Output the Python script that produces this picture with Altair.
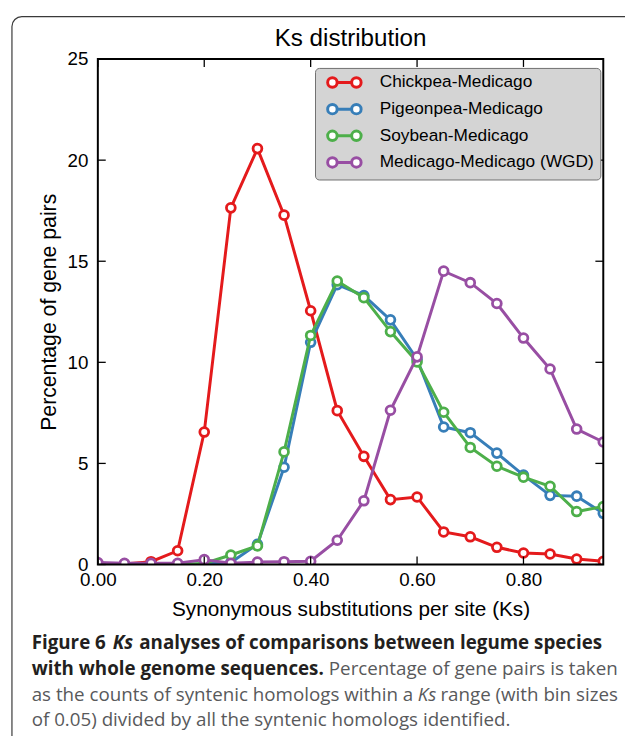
import altair as alt
import pandas as pd

# ---------------- data ----------------
KS = [0.00, 0.05, 0.10, 0.15, 0.20, 0.25, 0.30, 0.35, 0.40, 0.45,
      0.50, 0.55, 0.60, 0.65, 0.70, 0.75, 0.80, 0.85, 0.90, 0.95]
SERIES = ["Chickpea-Medicago", "Pigeonpea-Medicago", "Soybean-Medicago",
          "Medicago-Medicago (WGD)"]
COLORS = ["#e41a1c", "#377eb8", "#4daf4a", "#984ea3"]
CHICKPEA = [0.02, 0.02, 0.14, 0.68, 6.55, 17.64, 20.57, 17.28, 12.55, 7.61,
            5.35, 3.21, 3.34, 1.61, 1.37, 0.85, 0.57, 0.52, 0.27, 0.16]
PIGEONPEA = [0.0, 0.0, 0.0, 0.0, 0.02, 0.10, 1.00, 4.81, 10.99, 13.84,
             13.30, 12.10, 10.15, 6.80, 6.52, 5.51, 4.42, 3.42, 3.38, 2.53]
SOYBEAN = [0.0, 0.0, 0.0, 0.0, 0.05, 0.47, 0.92, 5.57, 11.33, 14.02,
           13.20, 11.52, 10.02, 7.53, 5.79, 4.86, 4.32, 3.87, 2.62, 2.87]
MEDICAGO = [0.10, 0.06, 0.06, 0.06, 0.24, 0.06, 0.12, 0.14, 0.16, 1.20,
            3.15, 7.63, 10.27, 14.51, 13.94, 12.91, 11.20, 9.67, 6.70, 6.06]
X_TICKS = [0.0, 0.2, 0.4, 0.6, 0.8]
Y_TICKS = [0, 5, 10, 15, 20, 25]

TITLE = "Ks distribution"
X_TITLE = "Synonymous substitutions per site (Ks)"
Y_TITLE = "Percentage of gene pairs"

CAPTION = [
    [("Figure 6", "bold", "normal"), ("Ks", "bold", "italic"),
     ("analyses of comparisons between legume species", "bold", "normal")],
    [("with whole genome sequences.", "bold", "normal"),
     ("Percentage of gene pairs is taken", "normal", "normal")],
    [("as the counts of syntenic homologs within a", "normal", "normal"),
     ("Ks", "normal", "italic"), ("range (with bin sizes", "normal", "normal")],
    [("of 0.05) divided by all the syntenic homologs identified.", "normal", "normal")],
]

# ---------------- layout ----------------
W, H = 512, 512
X0, Y0 = 99, 55           # page position of plot origin
FONT = "Liberation Sans"
CAP_FONT = "Open Sans"
CAP_BOLD_SIZE = 19
CAP_REG_SIZE = 19
CAP_X = [[32, 114, 141], [32, 333], [32, 423, 446], [32]]
CAP_Y = [653, 679, 705, 731]

LEG_X, LEG_Y, LEG_W, LEG_H = 220, 9, 282, 109

rows = []
for name, vals in zip(SERIES, [CHICKPEA, PIGEONPEA, SOYBEAN, MEDICAGO]):
    for k, v in zip(KS, vals):
        rows.append({"ks": k, "pct": v, "series": name})
df = pd.DataFrame(rows)

x_scale = alt.Scale(domain=[0, 0.95], nice=False, zero=False)
y_scale = alt.Scale(domain=[0, 25], nice=False, zero=False)
c_scale = alt.Scale(domain=SERIES, range=COLORS)

x_axis = alt.Axis(values=X_TICKS, format=".2f", title=X_TITLE, labelFont=FONT,
                  labelFontSize=19, labelColor="black", labelPadding=6,
                  ticks=False, tickSize=0, domain=False, grid=False,
                  labelFlush=False, labelOverlap=False,
                  titleFont=FONT, titleFontSize=21, titleFontWeight="normal",
                  titleColor="black", titlePadding=10)
y_axis = alt.Axis(values=Y_TICKS, title=Y_TITLE, labelFont=FONT,
                  labelFontSize=19, labelColor="black", labelPadding=10,
                  ticks=False, tickSize=0, domain=False, grid=False,
                  labelFlush=False, labelOverlap=False,
                  titleFont=FONT, titleFontSize=21.5, titleFontWeight="normal",
                  titleColor="black", titlePadding=7)

X = alt.X("ks:Q", scale=x_scale, axis=x_axis)
Y = alt.Y("pct:Q", scale=y_scale, axis=y_axis)


def circ(cx, r):
    k = 0.5523 * r
    f = lambda v: f"{v:.3f}"
    return (f"M{f(cx + r)},0C{f(cx + r)},{f(k)} {f(cx + k)},{f(r)} {f(cx)},{f(r)}"
            f"C{f(cx - k)},{f(r)} {f(cx - r)},{f(k)} {f(cx - r)},0"
            f"C{f(cx - r)},{f(-k)} {f(cx - k)},{f(-r)} {f(cx)},{f(-r)}"
            f"C{f(cx + k)},{f(-r)} {f(cx + r)},{f(-k)} {f(cx + r)},0Z")


U = 6.5  # px per path unit (sqrt(169)/2)
cc, rr = 12.15 / U, 4.8 / U
SYMBOL = circ(-cc, rr) + f"M{-cc + rr:.3f},0L{cc - rr:.3f},0" + circ(cc, rr)

legend = alt.Legend(title=None, orient="none", legendX=LEG_X, legendY=LEG_Y, zindex=2,
                    fillColor="#d4d4d4", strokeColor="#707070", cornerRadius=4,
                    padding=6, labelFont=FONT, labelFontSize=17.5, labelLimit=400,
                    labelColor="black", labelOffset=27, symbolOffset=15,
                    symbolType=SYMBOL, symbolSize=169, symbolStrokeWidth=3,
                    symbolFillColor="white", symbolOpacity=1, rowPadding=4)
C = alt.Color("series:N", scale=c_scale, legend=legend)

layers = []
one = pd.DataFrame({"k": [0]})

# outer figure border (rounded, runs off the page on right/bottom)
layers.append(alt.Chart(one).mark_rect(fillOpacity=0, stroke="#3a3a3a",
                                       strokeWidth=1.2, cornerRadius=10).encode(
    x=alt.value(12 - X0), x2=alt.value(800), y=alt.value(12 - Y0), y2=alt.value(900)))

# legend shadow
layers.append(alt.Chart(one).mark_rect(fill="#8c8c8c", opacity=0.7, cornerRadius=4).encode(
    x=alt.value(LEG_X + 4), x2=alt.value(LEG_X + 4 + LEG_W),
    y=alt.value(LEG_Y + 4), y2=alt.value(LEG_Y + 4 + LEG_H)))

for name in SERIES:
    base = alt.Chart(df).transform_filter(alt.datum.series == name)
    layers.append(base.mark_line(strokeWidth=3, clip=True).encode(x=X, y=Y, color=C))
    layers.append(base.mark_point(shape="circle", filled=False, fill="white",
                                  opacity=1, size=80, strokeWidth=2.8,
                                  clip=True).encode(x=X, y=Y, color=C))

# inward ticks on all four sides
xt = pd.DataFrame({"ks": X_TICKS})
yt = pd.DataFrame({"pct": Y_TICKS})
layers.append(alt.Chart(xt).mark_rule(color="black", strokeWidth=1.3).encode(
    x=X, y=alt.value(H), y2=alt.value(H - 8)))
layers.append(alt.Chart(xt).mark_rule(color="black", strokeWidth=1.3).encode(
    x=X, y=alt.value(0), y2=alt.value(8)))
layers.append(alt.Chart(yt).mark_rule(color="black", strokeWidth=1.3).encode(
    y=Y, x=alt.value(0), x2=alt.value(8)))
layers.append(alt.Chart(yt).mark_rule(color="black", strokeWidth=1.3).encode(
    y=Y, x=alt.value(W), x2=alt.value(W - 8)))

# plot frame
layers.append(alt.Chart(one).mark_rect(fillOpacity=0, stroke="black", strokeWidth=2).encode(
    x=alt.value(0), x2=alt.value(W), y=alt.value(0), y2=alt.value(H)))

# chart title
layers.append(alt.Chart(pd.DataFrame({"t": [TITLE]})).mark_text(
    align="center", baseline="alphabetic", font=FONT, fontSize=24.5,
    color="black").encode(text="t:N", x=alt.value(W / 2), y=alt.value(-13)))

# caption
for line, xs, y in zip(CAPTION, CAP_X, CAP_Y):
    for (s, weight, style), x in zip(line, xs):
        bold = weight == "bold"
        layers.append(alt.Chart(pd.DataFrame({"t": [s]})).mark_text(
            align="left", baseline="alphabetic", font=CAP_FONT,
            fontSize=CAP_BOLD_SIZE if bold else CAP_REG_SIZE,
            fontWeight=weight, fontStyle=style,
            color="#231f20" if bold else "#58595b").encode(
            text="t:N", x=alt.value(x - X0), y=alt.value(y - Y0)))

chart = alt.layer(*layers).properties(
    width=W, height=H,
    autosize=alt.AutoSizeParams(type="none"),
    padding={"left": X0 - 8, "top": Y0 - 8, "right": 625 - (X0 - 8) - W,
             "bottom": 728 - (Y0 - 8) - H},
).configure_view(strokeWidth=0)

chart.save("out.html", embed_options={"renderer": "svg", "actions": False})
